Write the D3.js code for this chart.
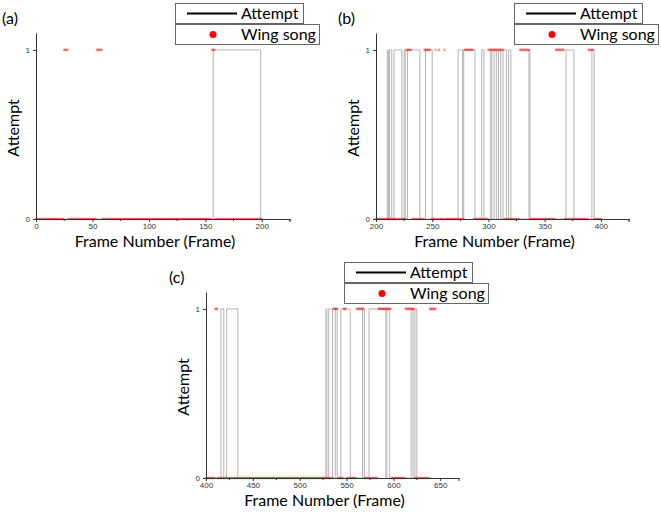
<!DOCTYPE html>
<html>
<head>
<meta charset="utf-8">
<script src="https://cdn.jsdelivr.net/npm/d3@7"></script>
<style>
  body { margin: 0; background: #fff; }
  svg { display: block; font-family: Lato, "Open Sans", sans-serif; }
</style>
</head>
<body>
<div class="container"></div>
<script>
// frames where "Attempt" is 1, as [start, end] runs
var attemptA = [[157, 199]]
var attemptB = [[210, 211], [212, 214], [216, 223], [225, 226], [228, 239], [244, 250],
                [273, 277], [278, 288], [294, 296], [302, 303], [305, 307], [309, 311],
                [313, 316], [318, 320], [336, 337], [369, 376], [392, 394]]
var attemptC = [[416, 419], [422, 434], [528, 529], [531, 535], [538, 540], [544, 554],
                [567, 569], [574, 592], [593, 596], [619, 621], [623, 625]]

// frames where "Wing song" is 1
var songA = [[25, 28], [54, 58], [156, 158]]
var songB = [[227, 231], [243, 248], [253, 253], [256, 256], [261, 261], [279, 286],
             [300, 313], [328, 336], [360, 367], [389, 393]]
var songC = [[410, 412], [536, 540], [547, 549], [561, 568], [584, 597], [613, 622], [639, 645]]

// frame range of each recording
var attemptRange = [[0, 200], [200, 400], [400, 627]]
var songRange = [[0, 200], [200, 400], [400, 645]]

var xDomains = [[0, 225], [200, 425], [400, 670]]
var xTicks = [[0, 50, 100, 150, 200], [200, 250, 300, 350, 400], [400, 450, 500, 550, 600, 650]]
var yTicks = [0, 1]
var panelNames = ['(a)', '(b)', '(c)']

var panels = [
  {left: 36, right: 290, top: 33, bottom: 219, tagX: 2, tagY: 24, legX: 175, legY: 3},
  {left: 376, right: 629, top: 33, bottom: 219, tagX: 338, tagY: 24, legX: 514, legY: 3},
  {left: 206, right: 459, top: 292, bottom: 478, tagX: 169, tagY: 283, legX: 344, legY: 262}
]

var svg = d3.select('.container').append('svg')
    .attr('width', 661)
    .attr('height', 513)

var isOn = function (runs, f) {
  return runs.some(function (r) { return f >= r[0] && f <= r[1] }) ? 1 : 0
}

var drawPanel = function (i, attemptRuns, songRuns) {
  var p = panels[i]
  var x = d3.scaleLinear().domain(xDomains[i]).range([p.left, p.right])
  var y = d3.scaleLinear().domain([0, 1.1]).range([p.bottom, p.top])
  var g = svg.append('g')

  // attempt step line
  var ar = attemptRange[i]
  var pts = [[ar[0], 0]]
  attemptRuns.forEach(function (r) {
    pts.push([r[0], 0], [r[0], 1], [r[1], 1], [r[1], 0])
  })
  pts.push([ar[1], 0])
  g.append('path')
    .datum(pts)
    .attr('fill', 'none')
    .attr('stroke', '#b4b4b4')
    .attr('stroke-width', 1)
    .attr('d', d3.line().x(function (d) { return x(d[0]) }).y(function (d) { return y(d[1]) }))

  // wing song points, one per frame
  var sr = songRange[i]
  var song = d3.range(sr[0], sr[1] + 1).map(function (f) { return {f: f, v: isOn(songRuns, f)} })
  g.selectAll('circle.song').data(song).enter().append('circle')
    .attr('class', 'song')
    .attr('cx', function (d) { return x(d.f) })
    .attr('cy', function (d) { return y(d.v) })
    .attr('r', 1.3)
    .attr('fill', 'rgba(235,40,40,0.45)')

  // axes
  var xAxis = d3.axisBottom(x).tickValues(xTicks[i]).tickSize(3).tickSizeOuter(0)
  var gx = g.append('g').attr('transform', 'translate(0,' + p.bottom + ')').call(xAxis)
  var minor = d3.range(xDomains[i][0] + 25, xDomains[i][1] + 1, 50)
  gx.selectAll('line.minor').data(minor).enter().append('line')
    .attr('class', 'minor')
    .attr('x1', function (d) { return x(d) }).attr('x2', function (d) { return x(d) })
    .attr('y1', 0).attr('y2', 2)
    .attr('stroke', '#333')
  gx.append('line').attr('x1', p.right).attr('x2', p.right).attr('y1', 0).attr('y2', 3).attr('stroke', '#333')

  var yAxis = d3.axisLeft(y).tickValues(yTicks).tickFormat(d3.format('d')).tickSize(3).tickSizeOuter(0)
  var gy = g.append('g').attr('transform', 'translate(' + p.left + ',0)').call(yAxis)

  g.selectAll('.domain').attr('stroke', '#333')
  g.selectAll('.tick line').attr('stroke', '#333')
  g.selectAll('.tick text').attr('font-size', 8).attr('fill', '#333')
    .attr('font-family', '"Liberation Sans", Arial, sans-serif')
  gx.selectAll('.tick text').attr('dy', '0.5em')

  // titles
  g.append('text')
    .attr('x', (p.left + p.right) / 2 - 8)
    .attr('y', p.bottom + 28)
    .attr('text-anchor', 'middle')
    .attr('font-size', 16)
    .text('Frame Number (Frame)')
  g.append('text')
    .attr('transform', 'translate(' + (p.left - 17) + ',' + ((p.top + p.bottom) / 2 + 2) + ') rotate(-90)')
    .attr('text-anchor', 'middle')
    .attr('font-size', 16)
    .text('Attempt')
  g.append('text')
    .attr('x', p.tagX).attr('y', p.tagY)
    .attr('font-size', 16)
    .text(panelNames[i])

  // legend
  var lx = p.legX, ly = p.legY
  g.append('rect').attr('x', lx + 0.5).attr('y', ly + 0.5).attr('width', 128).attr('height', 20)
    .attr('fill', '#fff').attr('stroke', '#666')
  g.append('line').attr('x1', lx + 12).attr('x2', lx + 62).attr('y1', ly + 10.5).attr('y2', ly + 10.5)
    .attr('stroke', '#000').attr('stroke-width', 2)
  g.append('text').attr('x', lx + 66).attr('y', ly + 16).attr('font-size', 16).text('Attempt')
  g.append('rect').attr('x', lx + 0.5).attr('y', ly + 21.5).attr('width', 144).attr('height', 20)
    .attr('fill', '#fff').attr('stroke', '#666')
  g.append('circle').attr('cx', lx + 38).attr('cy', ly + 31.5).attr('r', 3.5).attr('fill', '#f00')
  g.append('text').attr('x', lx + 66).attr('y', ly + 37).attr('font-size', 16).text('Wing song')
}

drawPanel(0, attemptA, songA)
drawPanel(1, attemptB, songB)
drawPanel(2, attemptC, songC)
</script>
</body>
</html>
